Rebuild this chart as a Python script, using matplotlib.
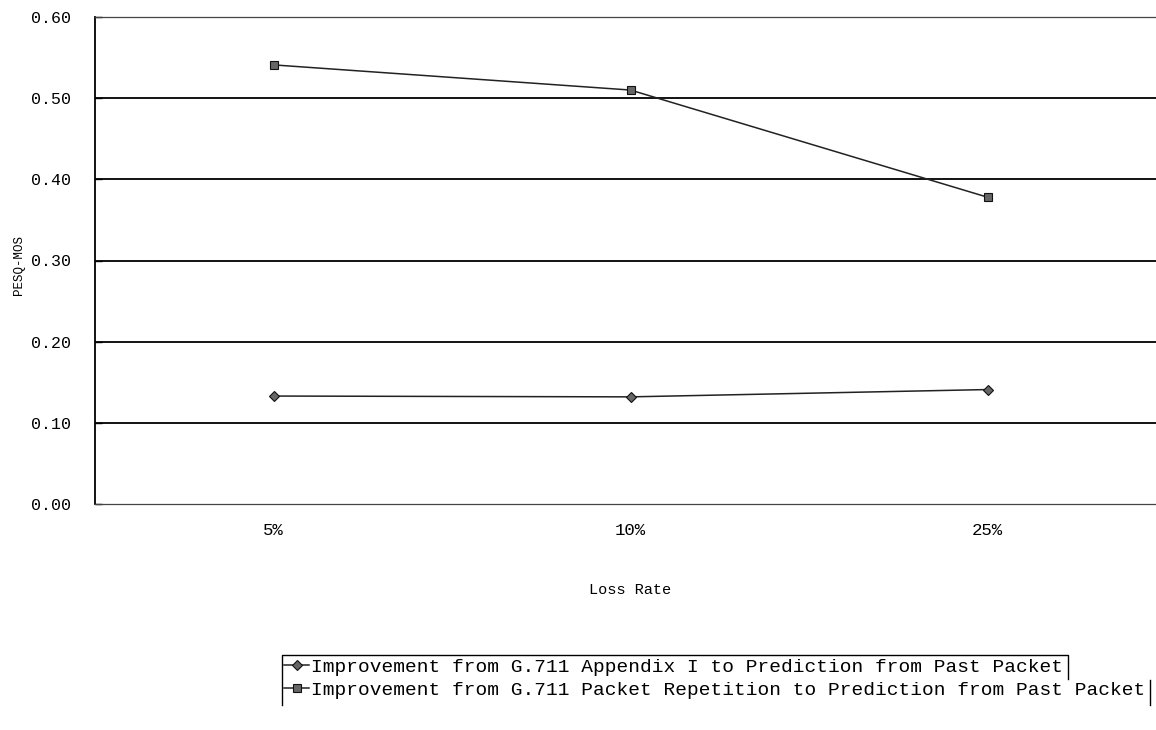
import matplotlib.pyplot as plt
from matplotlib.lines import Line2D

# Loss rate categories and PESQ-MOS improvements
loss_rates = ["5%", "10%", "25%"]
appendix_gain = [0.133, 0.132, 0.141]
repetition_gain = [0.541, 0.510, 0.378]
series_labels = [
    "Improvement from G.711 Appendix I to Prediction from Past Packet",
    "Improvement from G.711 Packet Repetition to Prediction from Past Packet",
]
y_ticks = [0.0, 0.1, 0.2, 0.3, 0.4, 0.5, 0.6]

mono = "Liberation Mono"
W, H = 1156, 730

fig = plt.figure(figsize=(W / 100, H / 100), dpi=100)
ax = fig.add_axes([95 / W, 1 - 504 / H, 1071 / W, 487 / H])

x = list(range(len(loss_rates)))
ax.plot(x, appendix_gain, color="#222222", lw=1.1, marker="D", ms=5,
        mfc="#666666", mec="#111111", mew=0.8, label=series_labels[0])
ax.plot(x, repetition_gain, color="#222222", lw=1.1, marker="s", ms=6,
        mfc="#666666", mec="#111111", mew=0.8, label=series_labels[1])

ax.set_xlim(-0.5, 2.5)
ax.set_ylim(0, 0.6)
ax.set_xticks(x)
ax.set_xticklabels(loss_rates, fontfamily=mono, fontsize=12.5)
ax.set_yticks(y_ticks)
ax.set_yticklabels([f"{v:.2f}" for v in y_ticks], fontfamily=mono, fontsize=12)
ax.tick_params(axis="x", length=0, pad=14)
ax.tick_params(axis="y", direction="in", length=5, width=1, pad=17)

# horizontal gridlines
for v in y_ticks[1:-1]:
    ax.axhline(v, color="black", lw=1.3, zorder=1)

ax.spines["right"].set_visible(False)
ax.spines["left"].set_linewidth(1.3)
for side in ["top", "bottom"]:
    ax.spines[side].set_linestyle((0, (1, 1)))
    ax.spines[side].set_linewidth(0.9)
    ax.spines[side].set_color("#444444")

ax.set_xlabel("Loss Rate", fontfamily=mono, fontsize=11, labelpad=32)
ax.text(-76 / 1071, 0.49, "PESQ-MOS", transform=ax.transAxes, rotation=90,
        ha="center", va="center", fontfamily=mono, fontsize=9)

leg = fig.legend(loc="upper left", bbox_to_anchor=(284 / W, 1 - 658 / H),
                 frameon=False, prop={"family": mono, "size": 14},
                 handlelength=1.3, handletextpad=0.1, labelspacing=0.3,
                 borderpad=0, borderaxespad=0)

# legend box outline, right edges follow each row's text
fig.canvas.draw()
renderer = fig.canvas.get_renderer()
ext = [t.get_window_extent(renderer) for t in leg.get_texts()]
r1 = ext[0].x1 + 5
r2 = min(ext[1].x1 + 5, W - 6)
split = (ext[0].y0 + ext[1].y1) / 2
top = H - 655
bottom = H - 705
frame_kw = dict(color="black", lw=1.0, transform=None)
fig.add_artist(Line2D([282, 282, r1, r1], [bottom, top, top, split], **frame_kw))
fig.add_artist(Line2D([r2, r2], [split - 1, bottom], **frame_kw))

fig.savefig("out.png", dpi=100, facecolor="white")
